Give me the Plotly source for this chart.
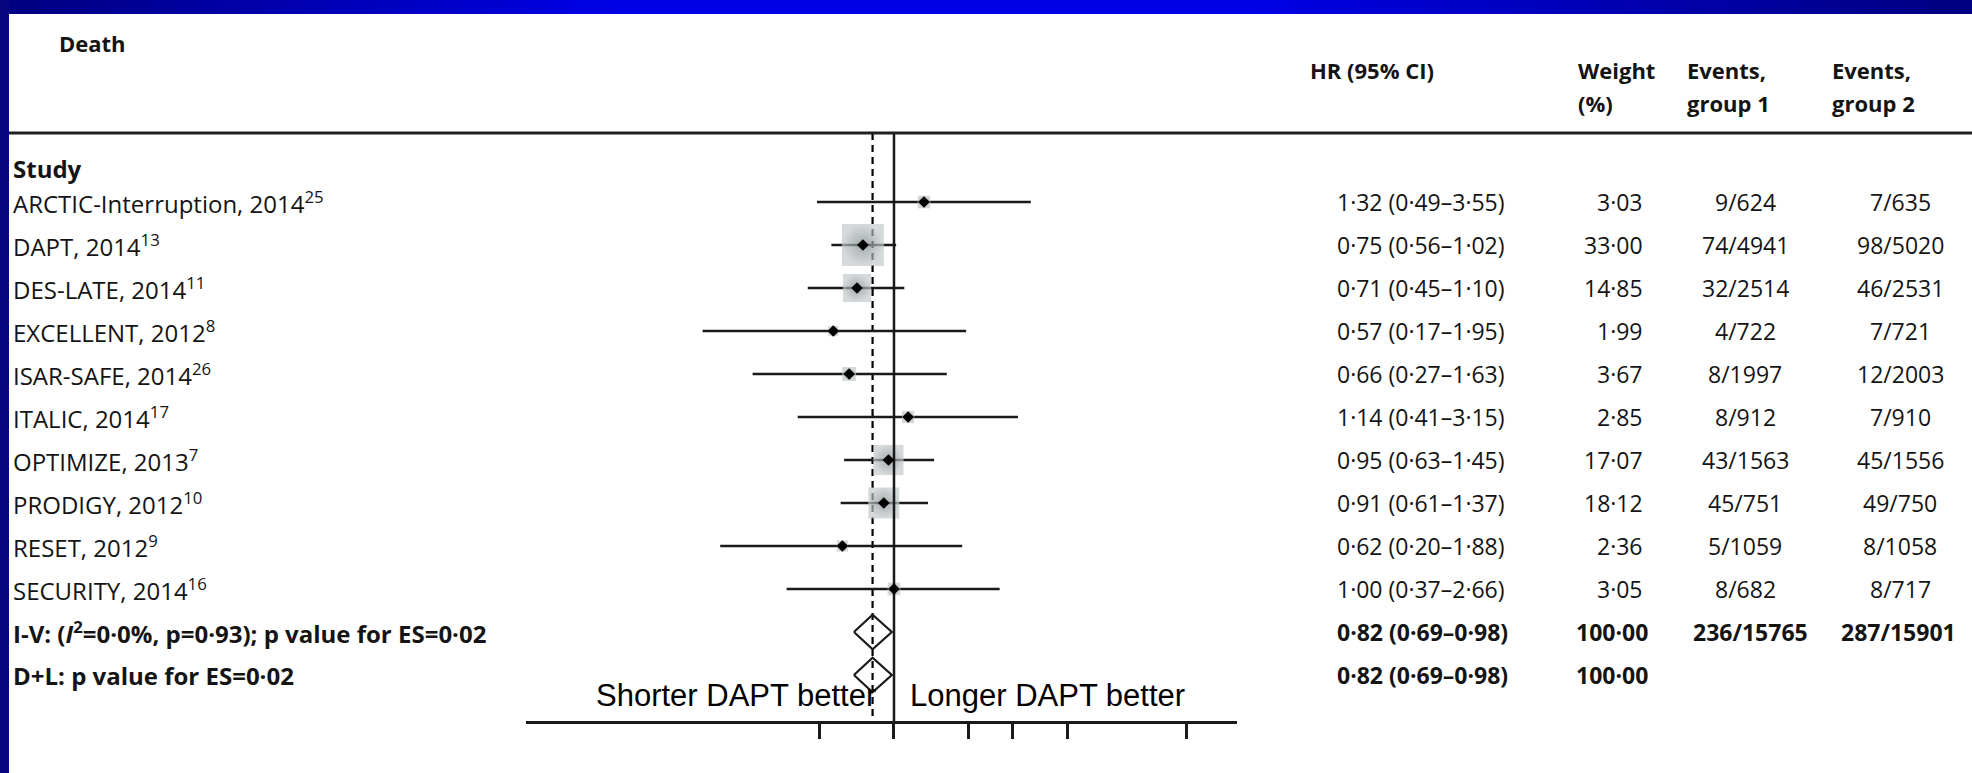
import numpy as np
import plotly.graph_objects as go

# ---------------- data ----------------
studies = ["ARCTIC-Interruption, 2014", "DAPT, 2014", "DES-LATE, 2014", "EXCELLENT, 2012",
           "ISAR-SAFE, 2014", "ITALIC, 2014", "OPTIMIZE, 2013", "PRODIGY, 2012",
           "RESET, 2012", "SECURITY, 2014"]
refs = ["25", "13", "11", "8", "26", "17", "7", "10", "9", "16"]
hr = [1.32, 0.75, 0.71, 0.57, 0.66, 1.14, 0.95, 0.91, 0.62, 1.00]
ci_lo = [0.49, 0.56, 0.45, 0.17, 0.27, 0.41, 0.63, 0.61, 0.20, 0.37]
ci_hi = [3.55, 1.02, 1.10, 1.95, 1.63, 3.15, 1.45, 1.37, 1.88, 2.66]
weights = [3.03, 33.00, 14.85, 1.99, 3.67, 2.85, 17.07, 18.12, 2.36, 3.05]
events_g1 = ["9/624", "74/4941", "32/2514", "4/722", "8/1997", "8/912", "43/1563", "45/751", "5/1059", "8/682"]
events_g2 = ["7/635", "98/5020", "46/2531", "7/721", "12/2003", "7/910", "45/1556", "49/750", "8/1058", "8/717"]

pooled_labels = ["I-V: (<i>I</i><sup>2</sup>=0·0%, p=0·93); p value for ES=0·02",
                 "D+L: p value for ES=0·02"]
pooled_hr = [0.82, 0.82]
pooled_lo = [0.69, 0.69]
pooled_hi = [0.98, 0.98]
pooled_weight = [100.00, 100.00]
pooled_g1 = ["236/15765", ""]
pooled_g2 = ["287/15901", ""]

axis_ticks = [0.5, 1, 2, 3, 5, 15]
axis_min, axis_max = 0.033, 24

# ---------------- geometry ----------------
W, H = 1972, 773
NULL_PX, PX_PER_LN = 894, 108.0
PX_PER_DEC = PX_PER_LN * np.log(10)
ROW0_PX, ROW_PX = 202, 43.0

def row_of(px):
    return (px - ROW0_PX) / ROW_PX

def lg(px):
    return (px - NULL_PX) / PX_PER_DEC

x_range = [lg(0), lg(W)]
y_range = [row_of(H), row_of(0)]

FONT = "Open Sans"
TXT = "#141414"

def fmt(v):
    return f"{v:.2f}".replace(".", "·")

n = len(studies)
rows = list(range(n))
prow = [n, n + 1]

fig = go.Figure()

top_row, axis_row = row_of(133), row_of(722)
# dashed pooled line (under the boxes)
fig.add_trace(go.Scatter(x=[pooled_hr[0], pooled_hr[0]], y=[top_row, axis_row], mode="lines",
                         line=dict(color="black", width=2.2, dash="7px,5px"), hoverinfo="skip"))

# CI lines
cx, cy = [], []
for lo, hi, r in zip(ci_lo, ci_hi, rows):
    cx += [lo, hi, None]
    cy += [r, r, None]
fig.add_trace(go.Scatter(x=cx, y=cy, mode="lines", line=dict(color="#1a1a1a", width=2.5),
                         hoverinfo="skip"))

# weight boxes
fig.add_trace(go.Scatter(x=hr, y=rows, mode="markers",
                         marker=dict(symbol="square", size=[7.3 * np.sqrt(w) for w in weights],
                                     color="#c4cacc",
                                     gradient=dict(type="radial", color="#7f878a"),
                                     line=dict(width=0)),
                         hoverinfo="skip"))

# solid null line
fig.add_trace(go.Scatter(x=[1, 1], y=[top_row, axis_row], mode="lines",
                         line=dict(color="#1a1a1a", width=2.5), hoverinfo="skip"))

# point estimates
fig.add_trace(go.Scatter(x=hr, y=rows, mode="markers",
                         marker=dict(symbol="diamond", size=9, color="black"), hoverinfo="skip"))

# pooled diamonds
for est, lo, hi, r in zip(pooled_hr, pooled_lo, pooled_hi, prow):
    fig.add_trace(go.Scatter(x=[lo, est, hi, est, lo], y=[r, r - 0.4, r, r + 0.4, r],
                             mode="lines", line=dict(color="#1a1a1a", width=2.2),
                             hoverinfo="skip"))

# axis holder trace (bottom HR axis)
fig.add_trace(go.Scatter(x=[1], y=[None], xaxis="x2", yaxis="y", mode="markers",
                         marker=dict(opacity=0), hoverinfo="skip"))

# ---------------- annotations ----------------
ann = []

def add(text, xpx, yrow, anchor="left", size=24, bold=False, color=TXT, family=FONT):
    if bold:
        text = f"<b>{text}</b>"
    ann.append(dict(text=text, x=xpx / W, xref="paper", y=yrow, yref="y",
                    xanchor=anchor, yanchor="middle", showarrow=False,
                    font=dict(family=family, size=size, color=color)))

HS = 22
add("Death", 57, row_of(43), bold=True, size=HS)
add("Study", 11, row_of(168), bold=True)
add("HR (95% CI)", 1308, row_of(70), bold=True, size=HS)
add("Weight", 1576, row_of(70), bold=True, size=HS)
add("(%)", 1576, row_of(103), bold=True, size=HS)
add("Events,", 1685, row_of(70), bold=True, size=HS)
add("group 1", 1685, row_of(103), bold=True, size=HS)
add("Events,", 1830, row_of(70), bold=True, size=HS)
add("group 2", 1830, row_of(103), bold=True, size=HS)

for i in range(n):
    add(f"{studies[i]}<sup>{refs[i]}</sup>", 11, rows[i])
    add(f"{fmt(hr[i])} ({fmt(ci_lo[i])}–{fmt(ci_hi[i])})", 1335, rows[i], size=23)
    add(fmt(weights[i]), 1645, rows[i], anchor="right", size=23)
    add(events_g1[i], 1745, rows[i], anchor="center", size=23)
    add(events_g2[i], 1900, rows[i], anchor="center", size=23)

for j in range(2):
    add(pooled_labels[j], 11, prow[j], bold=True)
    add(f"{fmt(pooled_hr[j])} ({fmt(pooled_lo[j])}–{fmt(pooled_hi[j])})", 1335, prow[j], bold=True, size=23)
    add(fmt(pooled_weight[j]), 1650, prow[j], anchor="right", bold=True, size=23)
    if pooled_g1[j]:
        add(pooled_g1[j], 1750, prow[j], anchor="center", bold=True, size=23)
        add(pooled_g2[j], 1898, prow[j], anchor="center", bold=True, size=23)

add("Shorter DAPT better", 878, row_of(695), anchor="right", size=31, family="Liberation Sans", color="black")
add("Longer DAPT better", 908, row_of(695), anchor="left", size=31, family="Liberation Sans", color="black")

# ---------------- frame shapes ----------------
shapes = []
shapes.append(dict(type="line", xref="paper", yref="paper", x0=5 / W, x1=1.0,
                   y0=1 - 133 / H, y1=1 - 133 / H, line=dict(color="#202020", width=3)))
stops = [(0, 0x80), (620, 0xE6), (1250, 0xE6), (1972, 0x80)]
nstrip = 90
BAR_H = 14
for k in range(nstrip):
    a, b = k * W / nstrip, (k + 1) * W / nstrip
    m = (a + b) / 2
    for (p0, c0), (p1, c1) in zip(stops[:-1], stops[1:]):
        if p0 <= m <= p1:
            c = int(round(c0 + (c1 - c0) * (m - p0) / (p1 - p0)))
    shapes.append(dict(type="rect", xref="paper", yref="paper", x0=a / W, x1=b / W + 0.001,
                       y0=1 - BAR_H / H, y1=1, line=dict(width=0), fillcolor=f"rgb(0,0,{c})",
                       layer="above"))
shapes.append(dict(type="rect", xref="paper", yref="paper", x0=0, x1=9 / W, y0=0, y1=1,
                   line=dict(width=0), fillcolor="#06067f", layer="above"))

ax_pos = 1 - 722 / H
fig.update_layout(
    width=W, height=H, margin=dict(l=0, r=0, t=0, b=0),
    paper_bgcolor="white", plot_bgcolor="rgba(0,0,0,0)", showlegend=False,
    xaxis=dict(type="log", range=x_range, domain=[0, 1], visible=False, fixedrange=True),
    xaxis2=dict(type="log", anchor="free", position=ax_pos,
                domain=[(NULL_PX + PX_PER_LN * np.log(axis_min)) / W,
                        (NULL_PX + PX_PER_LN * np.log(axis_max)) / W],
                range=[np.log10(axis_min), np.log10(axis_max)],
                showline=True, linecolor="#1a1a1a", linewidth=3,
                ticks="outside", ticklen=15, tickwidth=2.5, tickcolor="#1a1a1a",
                tickvals=axis_ticks, showticklabels=False, showgrid=False, zeroline=False,
                fixedrange=True),
    yaxis=dict(range=y_range, domain=[0, 1], visible=False, fixedrange=True),
    annotations=ann, shapes=shapes,
)

fig.write_html("out.html", config={"displayModeBar": False})
